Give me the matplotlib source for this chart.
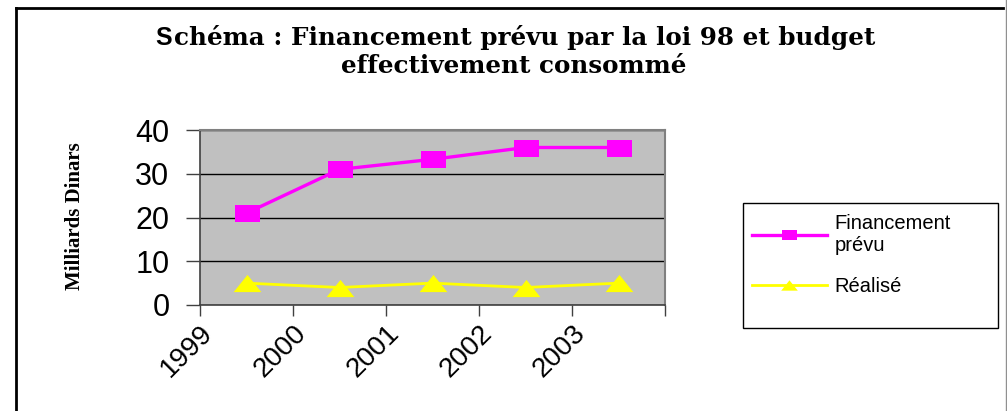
import numpy as np
import matplotlib.pyplot as plt
from matplotlib.lines import Line2D
from matplotlib.patches import Rectangle

# data ---------------------------------------------------------------
years = ["1999", "2000", "2001", "2002", "2003"]
financement = [21, 31, 33.3, 36, 36]
realise = [5, 4, 5, 4, 5]
serie_labels = ["Financement\nprévu", "Réalisé"]

plt.rcParams['font.family'] = ['Liberation Sans', 'DejaVu Sans']

fig = plt.figure(figsize=(10.07, 4.11), dpi=100)
ax = fig.add_axes([200/1007, 1-305/411, 465/1007, 175/411])
ax.set_facecolor('#c0c0c0')

x = np.arange(len(years))

# markers a bit wider than tall, like the original
sq = [(-1, -0.68), (1, -0.68), (1, 0.68), (-1, 0.68), (-1, -0.68)]
tri = [(-1, -0.62), (1, -0.62), (0, 0.62), (-1, -0.62)]

ax.plot(x, financement, color='#ff00ff', lw=2.4, marker=sq, markersize=18,
        markeredgewidth=0, label=serie_labels[0], zorder=4)
ax.plot(x, realise, color='#ffff00', lw=2.0, marker=tri, markersize=20,
        markeredgewidth=0, label=serie_labels[1], zorder=4)

ax.set_xlim(-0.5, len(years) - 0.5)
ax.set_ylim(0, 40)
ax.set_yticks([0, 10, 20, 30, 40])
ax.yaxis.grid(True, color='black', lw=1)
ax.set_axisbelow(True)

# labels sit on the category boundaries, as in the original
ax.set_xticks(np.arange(len(years) + 1) - 0.5)
ax.set_xticklabels(years + [""], rotation=45, ha='right', rotation_mode='anchor')

ax.tick_params(axis='y', direction='out', length=10, width=1, colors='#404040',
               labelcolor='black', labelsize=22, pad=12)
ax.tick_params(axis='x', direction='out', length=8, width=1, colors='#404040',
               labelcolor='black', labelsize=20, pad=3)

for s in ['top', 'right']:
    ax.spines[s].set_color('#808080')
    ax.spines[s].set_linewidth(1.5)
ax.spines['left'].set_color('#404040')
ax.spines['bottom'].set_color('#404040')
ax.spines['left'].set_linewidth(1.2)
ax.spines['bottom'].set_linewidth(1.2)

# y label, squashed bold serif in the original
fig.text(75/1007, 1-216/411, "Milliards Dinars", rotation=90, ha='center', va='center',
         fontsize=15, fontweight='bold', family=['Liberation Serif', 'DejaVu Serif'])

# title, first letter drawn bigger in sans
fig.text(155/1007, 1-38/411, "S", ha='left', va='center', fontsize=18,
         fontweight='bold', family=['Liberation Sans', 'DejaVu Sans'])
fig.text(174/1007, 1-38/411, "chéma : Financement prévu par la loi 98 et budget",
         ha='left', va='center', fontsize=17.7, fontweight='bold',
         family=['DejaVu Serif'])
fig.text(514/1007, 1-66/411, "effectivement consommé", ha='center', va='center',
         fontsize=17.7, fontweight='bold', family=['DejaVu Serif'])

# legend with its own box
fig.add_artist(Rectangle((743/1007, 1-328/411), 255/1007, 125/411, transform=fig.transFigure,
                         facecolor='white', edgecolor='black', lw=1, zorder=1))
fig.legend(loc='upper left', bbox_to_anchor=(752/1007, 1-214/411), frameon=False,
           fontsize=14.5, handlelength=3.7, handletextpad=0.4, labelspacing=1.1,
           borderpad=0, borderaxespad=0, markerscale=0.6)

# outer frame of the chart
fig.add_artist(Line2D([16/1007, 1003/1007], [1-8/411, 1-8/411], transform=fig.transFigure, color='black', lw=2))
fig.add_artist(Line2D([16/1007, 16/1007], [0, 1-8/411], transform=fig.transFigure, color='black', lw=2))
fig.add_artist(Line2D([1006/1007, 1006/1007], [0, 1], transform=fig.transFigure, color='#909090', lw=1))

fig.savefig('out.png', dpi=100)
